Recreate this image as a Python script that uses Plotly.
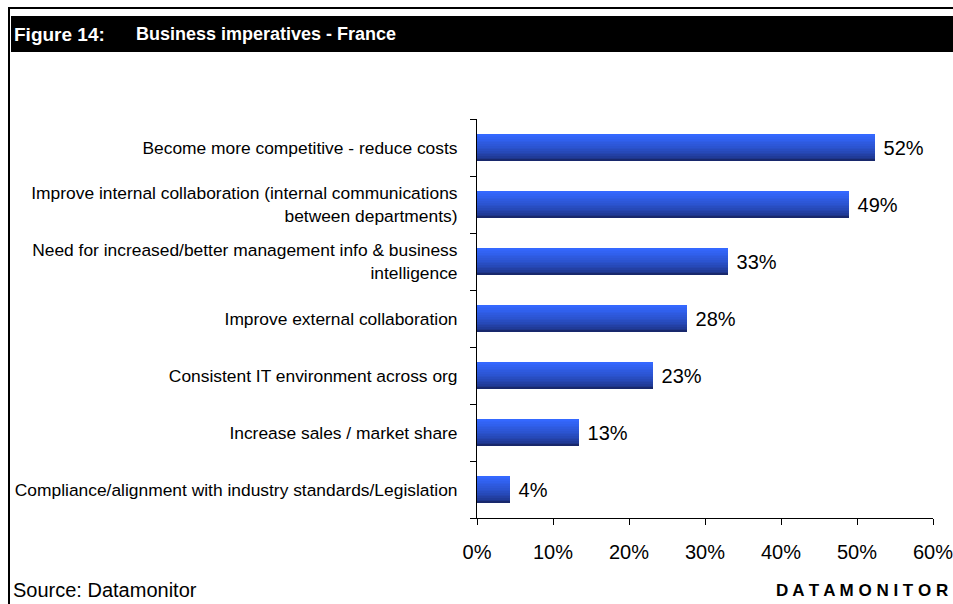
import plotly.graph_objects as go

# ---- data ----
categories = [
    "Become more competitive - reduce costs",
    "Improve internal collaboration (internal communications<br>between departments)",
    "Need for increased/better management info & business<br>intelligence",
    "Improve external collaboration",
    "Consistent IT environment across org",
    "Increase sales / market share",
    "Compliance/alignment with industry standards/Legislation",
]
shares = [52.4, 49.0, 33.0, 27.6, 23.1, 13.4, 4.3]
x_tick_values = [0, 10, 20, 30, 40, 50, 60]
x_tick_labels = ["0%", "10%", "20%", "30%", "40%", "50%", "60%"]

# ---- page geometry ----
W, H = 953, 604
ML, MR, MT, MB = 477, 20, 119, 86
PW, PH = W - ML - MR, H - MT - MB
FONT = "Arial, Liberation Sans, sans-serif"


def px(x):
    return (x - ML) / PW


def py(y):
    return (H - MB - y) / PH


fig = go.Figure()

# vertical colour ramp for the bars, built from stacked thin strips
BAR_H = 0.47
N = 16
top_rgb = (52, 104, 255)
bot_rgb = (24, 40, 108)
strip = BAR_H / N
for i in range(N):
    t = i / (N - 1)           # 0 bottom, 1 top
    t = t ** 0.6
    c = tuple(round(b + (a - b) * t) for a, b in zip(top_rgb, bot_rgb))
    last = i == N - 1
    fig.add_trace(go.Bar(
        y=categories, x=shares, orientation="h",
        width=strip if last else strip * 1.35,
        offset=-BAR_H / 2 + i * strip,
        marker=dict(color="rgb(%d,%d,%d)" % c, line=dict(width=0)),
        hoverinfo="skip", showlegend=False,
    ))

# value labels
fig.add_trace(go.Bar(
    y=categories, x=shares, orientation="h",
    width=BAR_H, offset=-BAR_H / 2,
    marker=dict(color="rgba(0,0,0,0)", line=dict(width=0)),
    texttemplate="\u00a0%{x:.0f}%", textposition="outside",
    constraintext="none", cliponaxis=False,
    textfont=dict(family=FONT, size=20, color="black"),
    showlegend=False,
))

shapes = [
    # black title band
    dict(type="rect", xref="paper", yref="paper",
         x0=px(11), x1=px(953), y0=py(52), y1=py(16),
         fillcolor="black", line=dict(width=0), layer="below"),
    # frame lines
    dict(type="line", xref="paper", yref="paper",
         x0=px(8), x1=px(953), y0=py(8), y1=py(8),
         line=dict(color="black", width=2)),
    dict(type="line", xref="paper", yref="paper",
         x0=px(9), x1=px(9), y0=py(7), y1=py(605),
         line=dict(color="black", width=2)),
]

annotations = [
    dict(text="<b>Figure 14:</b>", xref="paper", yref="paper",
         x=px(12), y=py(34), xanchor="left", yanchor="middle", showarrow=False,
         font=dict(family=FONT, size=19, color="white")),
    dict(text="<b>Business imperatives - France</b>", xref="paper", yref="paper",
         x=px(134), y=py(34), xanchor="left", yanchor="middle", showarrow=False,
         font=dict(family=FONT, size=18, color="white")),
    dict(text="Source: Datamonitor", xref="paper", yref="paper",
         x=px(11), y=py(590), xanchor="left", yanchor="middle", showarrow=False,
         font=dict(family=FONT, size=20, color="black")),
    dict(text="<b>D A T A M O N I T O R</b>", xref="paper", yref="paper",
         x=px(950), y=py(590), xanchor="right", yanchor="middle", showarrow=False,
         font=dict(family=FONT, size=17, color="black")),
]

fig.update_layout(
    width=W, height=H,
    margin=dict(l=ML, r=MR, t=MT, b=MB, autoexpand=False),
    paper_bgcolor="white", plot_bgcolor="white",
    barmode="overlay",
    bargap=0,
    showlegend=False,
    shapes=shapes,
    annotations=annotations,
    font=dict(family=FONT, color="black"),
    xaxis=dict(
        range=[0, 60], tickvals=x_tick_values, ticktext=x_tick_labels,
        ticks="outside", ticklen=6, tickcolor="black", tickwidth=1,
        showline=True, linecolor="black", linewidth=1,
        showgrid=False, zeroline=False,
        tickfont=dict(family=FONT, size=20, color="black"),
        ticklabelstandoff=10, ticklabeloverflow="allow",
    ),
    yaxis=dict(
        type="category", categoryorder="array", categoryarray=categories[::-1],
        range=[-0.5, len(categories) - 0.5],
        tickson="boundaries", ticks="outside", ticklen=6,
        tickcolor="black", tickwidth=1,
        showline=True, linecolor="black", linewidth=1,
        showgrid=False, zeroline=False,
        tickfont=dict(family=FONT, size=17.4, color="black"),
        ticklabelstandoff=15,
    ),
)

fig.write_html("out.html")
